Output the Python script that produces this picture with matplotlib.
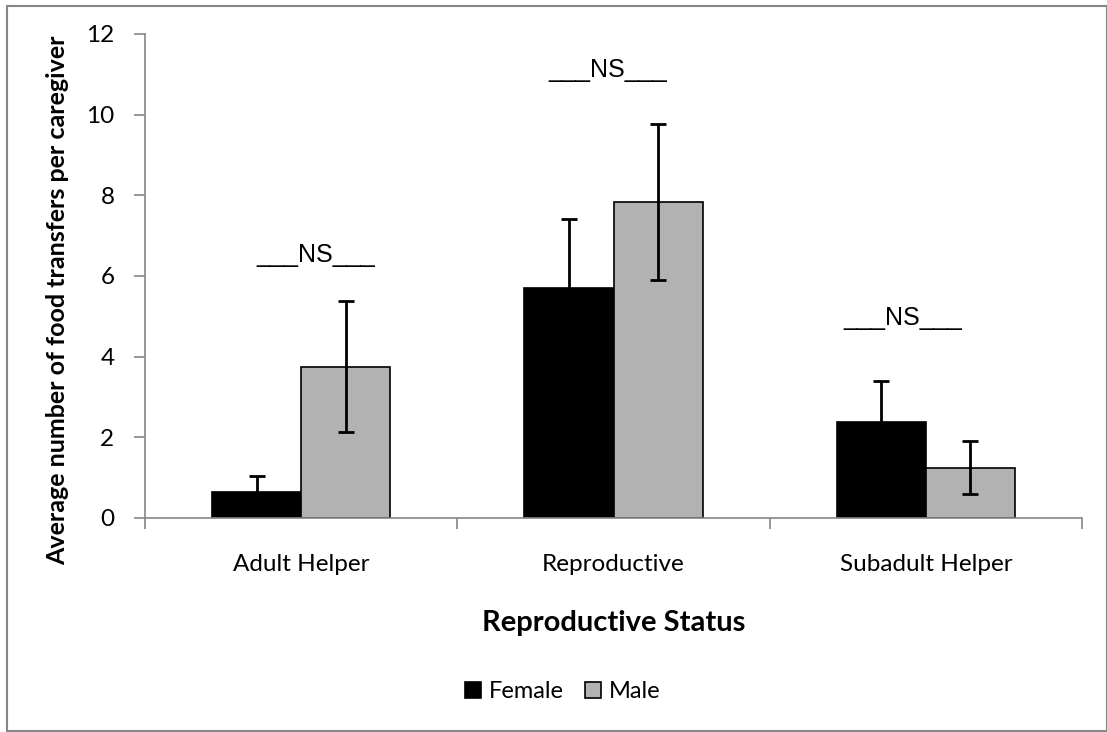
import matplotlib
matplotlib.use("Agg")
import matplotlib.pyplot as plt
import numpy as np
from matplotlib.patches import Rectangle

plt.rcParams['font.family'] = ['Lato', 'DejaVu Sans']

categories = ["Adult Helper", "Reproductive", "Subadult Helper"]
female = [0.64, 5.71, 2.37]
female_err = [0.39, 1.70, 1.03]
male = [3.75, 7.84, 1.25]
male_err = [1.63, 1.93, 0.65]
ns_labels = ["___NS___", "___NS___", "___NS___"]
ns_y = [6.52, 11.1, 4.96]
ns_x_offset = [0.048, -0.02, -0.075]
yticks = [0, 2, 4, 6, 8, 10, 12]

fig = plt.figure(figsize=(11.07, 7.32), dpi=100)
# axes: x 145..1082 px, y 34..518 px
ax = fig.add_axes([145/1107, (732-518)/732, (1082-145)/1107, (518-34)/732])

x = np.arange(len(categories))
w = 0.285
ec = '#000000'
ax.bar(x - w/2, female, w, color='black', edgecolor=ec, linewidth=1.2, label='Female', zorder=2)
ax.bar(x + w/2, male, w, color='#b2b2b2', edgecolor=ec, linewidth=1.2, label='Male', zorder=2)
ax.errorbar(x - w/2, female, yerr=female_err, fmt='none', ecolor='black', elinewidth=2, capsize=5.5, capthick=2, zorder=3)
ax.errorbar(x + w/2, male, yerr=male_err, fmt='none', ecolor='black', elinewidth=2, capsize=5.5, capthick=2, zorder=3)

for xi, lab, yy, off in zip(x, ns_labels, ns_y, ns_x_offset):
    ax.text(xi + off, yy, lab, ha='center', va='center', fontsize=18,
            family=['Liberation Sans', 'DejaVu Sans'])

ax.set_xlim(-0.5, 2.5)
ax.set_ylim(0, 12)
ax.set_yticks(yticks)
ax.set_yticklabels([str(t) for t in yticks], fontsize=17.5)
ax.set_xticks(x)
ax.set_xticklabels(categories, fontsize=17.5)
ax.tick_params(axis='x', length=0, pad=26)
ax.set_xticks([-0.5, 0.5, 1.5, 2.5], minor=True)
ax.tick_params(axis='x', which='minor', length=8, color='#868686', width=1.2, direction='out')
ax.tick_params(axis='y', length=8, color='#868686', width=1.2, direction='out', pad=14)
for s in ['top', 'right']:
    ax.spines[s].set_visible(False)
for s in ['left', 'bottom']:
    ax.spines[s].set_color('#868686')
    ax.spines[s].set_linewidth(1.2)

ax.set_ylabel("Average number of food transfers per caregiver", fontsize=18, fontweight='bold')
ax.yaxis.set_label_coords((58 - 145) / 937, (518 - 300) / 484)
ax.yaxis.label.set_va('center')
ax.set_xlabel("Reproductive Status", fontsize=21, fontweight='bold', labelpad=25)

leg = fig.legend(loc='center', bbox_to_anchor=(563/1107, 1 - 692/732), ncol=2, frameon=False, fontsize=17,
                 handlelength=0.65, handleheight=0.65, handletextpad=0.35, columnspacing=0.9)

fig.patches.append(Rectangle((7/1107, 1/732), 1 - 7/1107, 1 - 7/732, transform=fig.transFigure, fill=False,
                             edgecolor='#868686', linewidth=1.5))

fig.savefig("out.png", dpi=100)
